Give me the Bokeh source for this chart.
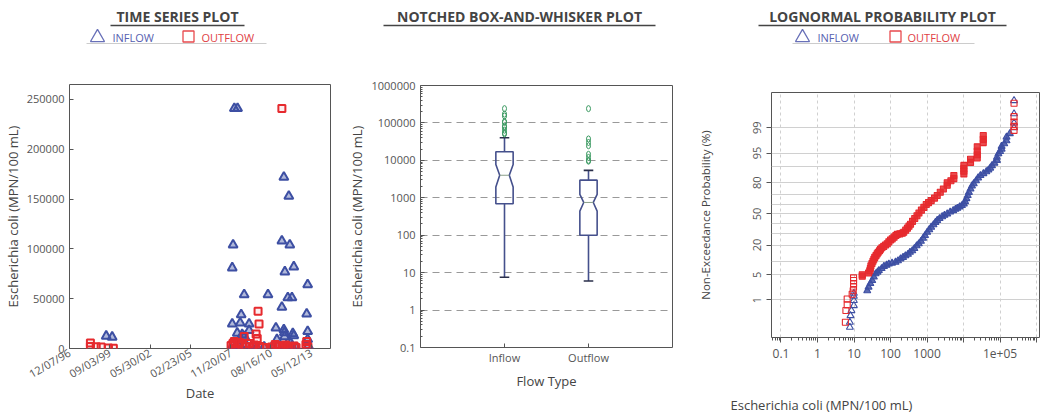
import math
import datetime as dt
from statistics import NormalDist
import pandas as pd
from bokeh.plotting import figure
from bokeh.layouts import column, row
from bokeh.models import (Range1d, FixedTicker, DatetimeTickFormatter,
                          NumeralTickFormatter, ColumnDataSource)
from bokeh.core.properties import value
from bokeh.embed import file_html
from bokeh.resources import INLINE

# ---------------------------------------------------------------- data
ts_tick_labels = ["12/07/96", "09/03/99", "05/30/02", "02/23/05",
                  "11/20/07", "08/16/10", "05/12/13"]
ts_x_end = "2014-09-03"
ts_y_ticks = [0, 50000, 100000, 150000, 200000, 250000]

inflow_dates = ["1999-06-06", "1999-11-01",
                "2008-02-20", "2008-05-10", "2008-01-20", "2007-12-30",
                "2011-05-15", "2011-11-28", "2011-07-03", "2011-11-03",
                "2011-07-28", "2012-03-06", "2008-10-21", "2010-06-04",
                "2011-10-10", "2012-01-20", "2013-02-13", "2011-05-15",
                "2013-01-20", "2008-08-08", "2007-12-30", "2008-07-14",
                "2009-02-21", "2009-02-21", "2008-05-02", "2008-09-01",
                "2008-11-01", "2010-12-18", "2011-07-03", "2011-07-15",
                "2011-07-20", "2012-02-10", "2012-03-06", "2013-02-13",
                "2013-02-13", "2011-01-12", "2011-12-23",
                "2008-01-10", "2008-04-01", "2008-06-15", "2008-12-01",
                "2009-04-15", "2009-09-01", "2010-03-01", "2010-09-01",
                "2011-02-01", "2011-09-01", "2012-01-15", "2012-05-01",
                "2013-03-01"]
inflow_values = [12500, 11500,
                 241000, 241000, 104000, 81000,
                 108000, 104000, 172000, 153000,
                 77000, 82000, 54000, 54000,
                 51000, 51000, 64000, 41500,
                 34700, 34000, 24600, 25600,
                 24600, 18200, 15500, 14000,
                 12000, 20600, 19000, 16000,
                 12000, 15000, 13000, 17200,
                 9100, 9000, 5400,
                 3000, 2000, 1500, 4000,
                 2000, 1000, 1500, 800,
                 2500, 3000, 2000, 1000,
                 2500]

outflow_dates = ["1998-05-10", "1998-05-10", "1998-10-01", "1999-02-01",
                 "1999-08-01", "1999-12-01",
                 "2011-05-15", "2009-10-01", "2009-10-25", "2009-08-13",
                 "2009-09-10", "2008-10-21", "2008-02-18", "2013-01-20",
                 "2007-12-01", "2008-01-15", "2008-03-01", "2008-05-15",
                 "2008-07-01", "2008-09-01", "2008-12-01", "2009-03-01",
                 "2009-05-01", "2009-07-01", "2009-11-15", "2010-02-01",
                 "2010-05-01", "2010-09-01", "2010-12-01", "2011-01-15",
                 "2011-04-01", "2011-06-01", "2011-08-15", "2011-10-15",
                 "2012-01-01", "2012-03-15", "2012-05-01", "2013-01-01",
                 "2013-02-20"]
outflow_values = [5400, 2000, 1800, 1500,
                  400, 300,
                  241000, 37400, 24600, 14500,
                  10000, 12000, 7000, 7000,
                  3000, 5000, 2500, 4500,
                  6000, 3000, 2000, 5000,
                  1500, 3500, 2000, 1000,
                  800, 1500, 4000, 3000,
                  2500, 1200, 3500, 2000,
                  1500, 2500, 1000, 4000,
                  1500]

box_categories = ["Inflow", "Outflow"]
box_positions = [1, 2]
box_q1 = [690, 100]
box_median = [4000, 750]
box_q3 = [17000, 2960]
box_notch_low = [1950, 440]
box_notch_high = [7800, 1240]
box_whisker_low = [7.5, 6.0]
box_whisker_high = [40000, 5400]
box_outliers_inflow = [241000, 172000, 153000, 108000, 104000, 82000,
                       77000, 64000, 54000, 51000]
box_outliers_outflow = [241000, 37400, 30000, 24600, 14500, 12000,
                        10000, 9500]
box_y_ticks = [0.1, 1, 10, 100, 1000, 10000, 100000, 1000000]

prob_in_conc = [7.7, 7.7, 8, 8.5, 9.9, 9.9, 9.9, 9.9,
                23, 25, 28, 31.5, 35, 39, 44, 48, 57, 66, 78, 90, 110, 137,
                160, 188, 220, 256, 300, 340, 394, 450, 520, 595, 680, 780,
                880, 1010, 1150, 1300, 1500, 1700, 1900, 2200, 2600, 3000,
                3570, 4300, 5200, 6000, 6750, 7800, 9000, 10190, 11000,
                12000, 13000, 14000, 15500, 17000, 19000, 22000, 25000,
                29000, 35000, 42000, 48000, 53700, 60000, 70000, 82000,
                82000, 90000, 100000, 110000, 110000, 130000, 150000,
                150000, 185000, 241000, 241000, 241000, 241000]
prob_in_pct = [0.11, 0.17, 0.3, 0.45, 0.66, 0.96, 1.3, 1.6,
               1.9, 2.4, 3.0, 3.6, 4.4, 5.3, 5.8, 6.3, 7.0, 7.8, 8.3, 8.8,
               9.2, 9.6, 10.3, 11.2, 12, 12.9, 13.8, 15, 16, 17.5, 19.5,
               21, 23, 25.5, 28, 31, 33.5, 36, 38.5, 41, 43, 45, 47, 48.5,
               50, 52, 53.5, 55, 56, 57.5, 59, 60.6, 63, 66, 69, 72, 75,
               77.5, 79.3, 81.5, 83.5, 85, 86.2, 87.3, 88.2, 89.2, 90.4,
               91.5, 92.6, 93.7, 94.8, 95.4, 96, 96.6, 97.1, 97.6, 98.1,
               98.5, 99.0, 99.3, 99.66, 99.89]

prob_out_conc = [5.8, 6.0, 6.5, 6.5, 8.9, 9.5, 9.7, 9.7, 9.7, 9.7,
                 16.8, 16.8, 25, 27, 28, 29, 31, 33, 35, 37, 40, 43, 46,
                 50, 53, 58, 65, 73, 81, 90, 100, 111, 125, 140, 153, 180,
                 209, 230, 260, 290, 320, 353, 400, 460, 530, 600, 700,
                 817, 950, 1100, 1300, 1600, 1900, 2300, 2800, 3570, 3570,
                 4500, 5420, 5420, 10190, 10190, 10190, 10190, 15500,
                 15500, 23700, 23700, 23700, 23700, 34600, 34600, 34600,
                 241000, 241000, 241000, 241000, 241000]
prob_out_pct = [0.17, 0.45, 0.7, 1.07, 1.5, 1.9, 2.4, 3.0, 3.6, 4.2,
                4.6, 5.0, 5.5, 6.2, 7, 8, 9, 10, 11, 12, 13, 14, 15,
                16, 17, 18, 19, 20, 21, 22.5, 24, 25, 26.5, 28, 29, 29.5,
                30, 31, 33, 35, 37, 39, 42, 45, 48, 51, 54,
                57, 60, 62, 64, 66.5, 69, 72, 75, 78, 80,
                81.5, 83, 85, 86, 87.5, 89, 90.5, 91.8,
                93, 93.5, 94.5, 95.5, 96.5, 97.3, 97.8, 98.3,
                98.8, 99.1, 99.35, 99.57, 99.86]

prob_y_tick_pct = [1, 5, 20, 50, 80, 95, 99]
prob_y_grid_pct = [1, 5, 10, 20, 30, 40, 50, 60, 70, 80, 90, 95, 99]
prob_x_ticks = [0.1, 1, 10, 100, 1000, 10000, 100000, 1000000]
prob_x_labels = ["0.1", "1", "10", "100", "1000", "", "1e+05", ""]

# ---------------------------------------------------------------- style
FONT = "Open Sans"
BLUE = "#3D4FA3"
RED = "#E62A2E"
BOXC = "#45508C"
GREEN = "#3C9A62"
TXT = "#555555"


def style_axis(ax, size="11px", tin=4, tout=0):
    ax.axis_line_color = None
    ax.major_tick_in = tin
    ax.major_tick_out = tout
    ax.minor_tick_in = 0
    ax.minor_tick_out = 0
    ax.major_tick_line_color = "#555555"
    ax.minor_tick_line_color = "#555555"
    ax.major_label_text_font = FONT
    ax.major_label_text_font_size = size
    ax.major_label_text_color = TXT
    ax.axis_label_text_font = FONT
    ax.axis_label_text_font_style = "normal"
    ax.axis_label_text_color = "#444444"
    ax.axis_label_text_font_size = "13px"


def strip(width, height):
    s = figure(width=width, height=height, x_range=Range1d(0, width),
               y_range=Range1d(height, 0), toolbar_location=None,
               output_backend="svg", min_border=0, x_axis_location=None,
               y_axis_location=None, outline_line_color=None,
               frame_align=False)
    s.grid.visible = False
    return s


# ---------------------------------------------------------------- header
hdr = strip(1040, 55)
titles = ["TIME SERIES PLOT", "NOTCHED BOX-AND-WHISKER PLOT",
          "LOGNORMAL PROBABILITY PLOT"]
hdr.text(x=[177, 519, 882], y=[16, 16, 16], text=titles,
         text_align="center", text_baseline="middle",
         text_font=value(FONT), text_font_style="bold",
         text_font_size="14px", text_color="#444444")
hdr.segment(x0=[110, 383, 758], x1=[244, 655, 1006], y0=[25, 25, 25],
            y1=[25, 25, 25], line_color="#444444", line_width=1.3)
hdr.segment(x0=[86, 792], x1=[266, 974], y0=[43, 43], y1=[43, 43],
            line_color="#cccccc", line_width=1)
hdr.scatter(x=[97, 802], y=[37, 37], marker="triangle", size=14,
            fill_color=None, line_color="#6870B8", line_width=1.3)
hdr.scatter(x=[188, 895], y=[36, 36], marker="square", size=11,
            fill_color=None, line_color="#E84A4E", line_width=1.3)
hdr.text(x=[112, 817], y=[37, 37], text=["INFLOW", "INFLOW"],
         text_align="left", text_baseline="middle", text_font=value(FONT),
         text_font_size="11px", text_color="#5560B0")
hdr.text(x=[201, 907], y=[37, 37], text=["OUTFLOW", "OUTFLOW"],
         text_align="left", text_baseline="middle", text_font=value(FONT),
         text_font_size="11px", text_color="#E04044")

# ---------------------------------------------------------------- time series
tick_dates = [dt.datetime.strptime(s, "%m/%d/%y") for s in ts_tick_labels]
tick_ms = [(d - dt.datetime(1970, 1, 1)).total_seconds() * 1000 for d in tick_dates]
f1 = figure(width=345, height=363, x_axis_type="datetime",
            x_range=Range1d(tick_dates[0], pd.Timestamp(ts_x_end).to_pydatetime()),
            y_range=Range1d(0, 265000), toolbar_location=None,
            output_backend="svg", min_border_left=68, min_border_right=15,
            min_border_top=29, min_border_bottom=70,
            outline_line_color="#555555", frame_align=False)
f1.grid.visible = False
f1.scatter(x=pd.to_datetime(inflow_dates), y=inflow_values, marker="triangle",
           size=9, line_color=BLUE, line_width=2, fill_color=BLUE,
           fill_alpha=0.4)
f1.scatter(x=pd.to_datetime(outflow_dates), y=outflow_values, marker="square",
           size=7, line_color=RED, line_width=2, fill_color=RED,
           fill_alpha=0.08)
fmt = "%m/%d/%y"
f1.xaxis.ticker = FixedTicker(ticks=tick_ms)
f1.xaxis.formatter = DatetimeTickFormatter(
    microseconds=fmt, milliseconds=fmt, seconds=fmt, minsec=fmt,
    minutes=fmt, hourmin=fmt, hours=fmt, days=fmt, months=fmt, years=fmt)
f1.xaxis.major_label_orientation = math.pi / 6
f1.yaxis.ticker = FixedTicker(ticks=ts_y_ticks)
f1.yaxis.formatter = NumeralTickFormatter(format="0")
for ax in (f1.xaxis[0], f1.yaxis[0]):
    style_axis(ax)
f1.yaxis.axis_label = "Escherichia coli (MPN/100 mL)"
f1.yaxis.axis_label_standoff = 2
f1.xaxis.axis_label = "Date"
f1.xaxis.major_label_standoff = 3
f1.xaxis.axis_label_standoff = -6

# ---------------------------------------------------------------- box plot
f2 = figure(width=345, height=363, y_axis_type="log",
            x_range=Range1d(0, 3), y_range=Range1d(0.1, 1e6),
            toolbar_location=None, output_backend="svg",
            min_border_left=64, min_border_right=18, min_border_top=30,
            min_border_bottom=71, outline_line_color="#555555",
            frame_align=False)
f2.xgrid.visible = False
f2.ygrid.grid_line_color = "#999999"
f2.ygrid.grid_line_dash = "7 5"
w, wn, wc = 0.103, 0.057, 0.057
bxs, bys = [], []
for pos, q1, med, q3, nl, nh in zip(box_positions, box_q1, box_median,
                                    box_q3, box_notch_low, box_notch_high):
    bxs.append([pos - w, pos - w, pos - wn, pos - w, pos - w,
                pos + w, pos + w, pos + wn, pos + w, pos + w])
    bys.append([q1, nl, med, nh, q3, q3, nh, med, nl, q1])
f2.patches(bxs, bys, fill_color=None, line_color=BOXC, line_width=1.6)
f2.segment(x0=[p - wn for p in box_positions], x1=[p + wn for p in box_positions],
           y0=box_median, y1=box_median, line_color="#8aa08a", line_width=1)
f2.segment(x0=box_positions + box_positions, x1=box_positions + box_positions,
           y0=box_q3 + box_q1, y1=box_whisker_high + box_whisker_low,
           line_color=BOXC, line_width=1.6)
f2.segment(x0=[p - wc for p in box_positions] * 2,
           x1=[p + wc for p in box_positions] * 2,
           y0=box_whisker_high + box_whisker_low,
           y1=box_whisker_high + box_whisker_low,
           line_color="#2a2f4a", line_width=1.6)
f2.ellipse(x=[box_positions[0]] * len(box_outliers_inflow) +
           [box_positions[1]] * len(box_outliers_outflow),
           y=box_outliers_inflow + box_outliers_outflow,
           width=4, height=6, width_units="screen", height_units="screen",
           fill_color=None, line_color=GREEN, line_width=1)
minor = [m * 10 ** e for e in range(-1, 6) for m in range(2, 10)]
f2.yaxis.ticker = FixedTicker(ticks=box_y_ticks, minor_ticks=minor)
f2.ygrid.ticker = FixedTicker(ticks=box_y_ticks)
f2.yaxis.formatter = NumeralTickFormatter(format="0.[0]")
f2.xaxis.ticker = FixedTicker(ticks=box_positions)
f2.xaxis.major_label_overrides = {p: c for p, c in zip(box_positions, box_categories)}
for ax in (f2.xaxis[0], f2.yaxis[0]):
    style_axis(ax)
f2.yaxis.minor_tick_in = 2
f2.yaxis.axis_label = "Escherichia coli (MPN/100 mL)"
f2.yaxis.axis_label_standoff = 2
f2.xaxis.axis_label = "Flow Type"
f2.xaxis.major_label_standoff = 2
f2.xaxis.axis_label_standoff = 4

# ---------------------------------------------------------------- probability
nd = NormalDist()


def zq(p):
    return nd.inv_cdf(p / 100.0)


f3 = figure(width=350, height=338, x_axis_type="log",
            x_range=Range1d(0.055, 1.2e6), y_range=Range1d(-3.34, 3.28),
            toolbar_location=None, output_backend="svg",
            min_border_left=81, min_border_right=1, min_border_top=37,
            min_border_bottom=56, outline_line_color="#555555",
            frame_align=False)
y_ticks = [zq(p) for p in prob_y_tick_pct]
f3.yaxis.ticker = FixedTicker(ticks=y_ticks)
f3.yaxis.major_label_overrides = {t: str(p) for t, p in zip(y_ticks, prob_y_tick_pct)}
f3.ygrid.ticker = FixedTicker(ticks=[zq(p) for p in prob_y_grid_pct])
f3.ygrid.grid_line_color = "#d0d0d0"
f3.xgrid.grid_line_color = "#d0d0d0"
f3.xgrid.grid_line_dash = "3 3"
xminor = [m * 10 ** e for e in range(-2, 7) for m in range(2, 10)]
f3.xaxis.ticker = FixedTicker(ticks=prob_x_ticks, minor_ticks=xminor)
f3.xgrid.ticker = FixedTicker(ticks=prob_x_ticks)
f3.xaxis.major_label_overrides = {t: l for t, l in zip(prob_x_ticks, prob_x_labels)}


def fill_alphas(conc):
    return [0.0 if (c <= 10 or c >= 200000) else 0.85 for c in conc]


src_in = ColumnDataSource(dict(x=prob_in_conc, y=[zq(p) for p in prob_in_pct],
                               a=fill_alphas(prob_in_conc)))
src_out = ColumnDataSource(dict(x=prob_out_conc, y=[zq(p) for p in prob_out_pct],
                                a=fill_alphas(prob_out_conc)))
f3.scatter("x", "y", source=src_in, marker="triangle", size=7,
           line_color=BLUE, line_width=1.1, fill_color=BLUE, fill_alpha="a")
f3.scatter("x", "y", source=src_out, marker="square", size=6,
           line_color=RED, line_width=1.1, fill_color=RED, fill_alpha="a")
style_axis(f3.xaxis[0], size="12px", tin=0, tout=5)
style_axis(f3.yaxis[0], size="11px", tin=0, tout=5)
f3.xaxis.minor_tick_out = 3
f3.yaxis.major_label_orientation = "vertical"
f3.yaxis.axis_label = "Non-Exceedance Probability (%)"
f3.yaxis.axis_label_text_font_size = "11.5px"
f3.yaxis.axis_label_standoff = 38
f3.xaxis.major_label_standoff = 6

ftr = strip(350, 25)
ftr.text(x=[40], y=[11], text=["Escherichia coli (MPN/100 mL)"],
         text_align="left", text_baseline="middle", text_font=value(FONT),
         text_font_size="13px", text_color="#444444")

layout = column(hdr, row(f1, f2, column(f3, ftr)))
open("out.html", "w").write(file_html(layout, INLINE))
